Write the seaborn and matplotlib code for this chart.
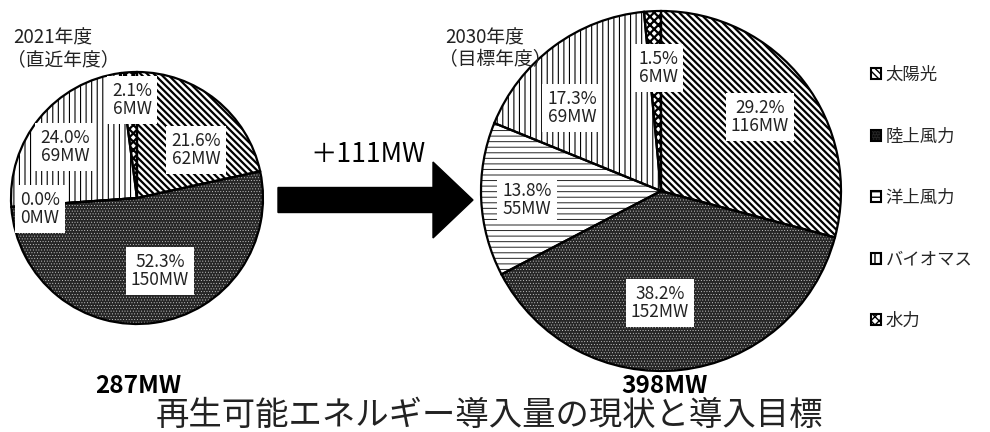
import matplotlib
matplotlib.use("Agg")
import matplotlib.pyplot as plt
from matplotlib.patches import FancyArrow, Patch
import seaborn as sns

categories = ["太陽光", "陸上風力", "洋上風力", "バイオマス", "水力"]
mw_2021 = [62, 150, 0, 69, 6]
pct_2021 = [21.6, 52.3, 0.0, 24.0, 2.1]
mw_2030 = [116, 152, 55, 69, 6]
pct_2030 = [29.2, 38.2, 13.8, 17.3, 1.5]
totals = [287, 398]
increase = 111
year_line1 = ["2021年度", "2030年度"]
year_line2 = ["（直近年度）", "（目標年度）"]
chart_title = "再生可能エネルギー導入量の現状と導入目標"

# per category: face colour, hatch, hatch colour, hatch line width
STYLES = [
    ("white", "\\\\\\\\\\", "black", 1.6),
    ("#262626", "......", "#dddddd", 0.3),
    ("white", "---", "#222222", 0.7),
    ("white", "|||", "black", 0.8),
    ("white", "xxxx", "black", 1.6),
]

# layout in pixels (y measured from the top)
W, H = 990, 432
PIE_CENTERS = [(137, 198), (661, 191)]
PIE_RADII = [126, 180]
LABEL_POS = [
    [(196, 150), (160, 271), (40, 209), (65, 147), (132, 100)],
    [(760, 117), (660, 303), (527, 200), (572, 108), (658, 68)],
]


def Y(y):
    return H - y


sns.set_theme(style="white")
plt.rcParams["font.family"] = ["Noto Sans CJK JP", "DejaVu Sans"]
plt.rcParams["hatch.linewidth"] = 1.0

fig = plt.figure(figsize=(9.9, 4.32), dpi=100)
ax = fig.add_axes([0, 0, 1, 1])


def draw_pie(values, pcts, center, radius, label_pos):
    c = (center[0], Y(center[1]))
    fills, _ = ax.pie(values, startangle=90, counterclock=False,
                      center=c, radius=radius,
                      wedgeprops=dict(linewidth=0))
    for w, (fc, hatch, hc, hlw) in zip(fills, STYLES):
        w.set_facecolor(fc)
        w.set_edgecolor(hc)
        w.set_hatch(hatch)
        if hasattr(w, "set_hatch_linewidth"):
            w.set_hatch_linewidth(hlw)
    ax.pie(values, startangle=90, counterclock=False,
           center=c, radius=radius, colors=["none"] * len(values),
           wedgeprops=dict(linewidth=1.6, edgecolor="black"))
    for p, m, (x, y) in zip(pcts, values, label_pos):
        ax.text(x, Y(y), f"{p:.1f}%\n{m}MW", ha="center", va="center",
                fontsize=12.5, linespacing=1.05, color="#222222",
                bbox=dict(boxstyle="square,pad=0.3", fc="white", ec="none"))


draw_pie(mw_2021, pct_2021, PIE_CENTERS[0], PIE_RADII[0], LABEL_POS[0])
draw_pie(mw_2030, pct_2030, PIE_CENTERS[1], PIE_RADII[1], LABEL_POS[1])

# growth arrow between the two pies
ax.add_patch(FancyArrow(278, Y(200), 195, 0, width=25, head_width=76,
                        head_length=40, length_includes_head=True,
                        color="black"))
ax.text(368, Y(155), f"＋{increase}MW", ha="center", va="center",
        fontsize=19, color="black")

# year captions
for x, l1, l2 in zip([13, 445], year_line1, year_line2):
    ax.text(x, Y(38), l1, ha="left", va="center", fontsize=13.5, color="#222222")
    ax.text(x - 6, Y(60), l2, ha="left", va="center", fontsize=13.5, color="#222222")

# totals under each pie
for x, t in zip([138, 665], totals):
    ax.text(x, Y(386), f"{t}MW", ha="center", va="center",
            fontsize=17.5, fontweight="bold", color="black")

ax.text(489, Y(415), chart_title, ha="center", va="center", fontsize=24,
        color="#222222")

handles = [Patch(facecolor=fc, edgecolor="black", hatch=h, linewidth=1.5)
           for fc, h, _, _ in STYLES]
ax.legend(handles, categories, loc="upper left",
          bbox_to_anchor=(871 / W, 1 - 66 / H), frameon=False,
          fontsize=12.5, labelspacing=2.5, handlelength=0.6, handleheight=0.6,
          handletextpad=0.25, borderaxespad=0, borderpad=0)

ax.set_xlim(0, W)
ax.set_ylim(0, H)
ax.set_aspect("equal")
ax.axis("off")

fig.savefig("out.png", dpi=100)
plt.close(fig)
